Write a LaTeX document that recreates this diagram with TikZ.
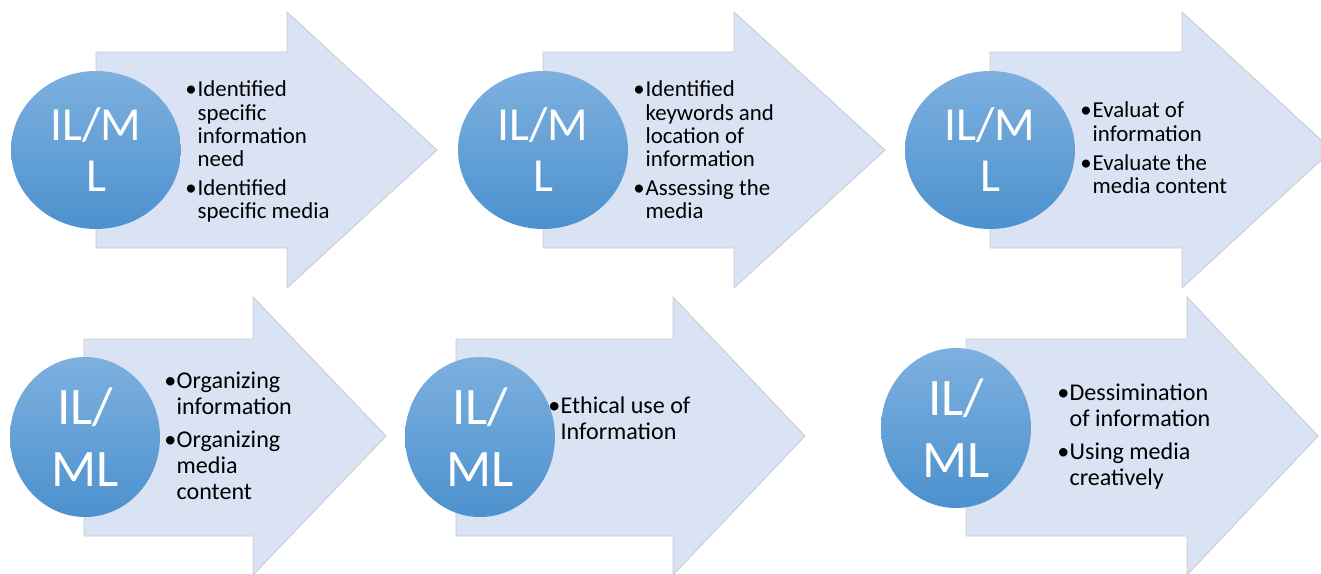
\documentclass[tikz,border=0pt]{standalone}
\usepackage{fontspec}
\setmainfont{Carlito}
\usetikzlibrary{shapes.geometric}
\definecolor{arrowfill}{HTML}{DAE3F3}
\definecolor{arrowline}{HTML}{C6CCD6}
\definecolor{balltop}{HTML}{7DB0DF}
\definecolor{ballbottom}{HTML}{4C91CE}
\tikzset{
  arrowbg/.style={fill=arrowfill, draw=arrowline, line width=0.5pt},
  ball/.style={ellipse, top color=balltop, bottom color=ballbottom,
    text=white, align=center, inner sep=0pt},
  topball/.style={ball, minimum width=3.4cm, minimum height=3.16cm,
    font=\fontsize{27}{29}\selectfont},
  lowball/.style={ball, minimum width=3.0cm, minimum height=3.2cm,
    font=\fontsize{30}{35}\selectfont},
  toplist/.style={anchor=base west, inner sep=0pt,
    font=\fontsize{13}{13.1}\selectfont},
  lowlist/.style={anchor=base west, inner sep=0pt,
    font=\fontsize{13.7}{14.8}\selectfont}
}
\newcommand{\bul}{\textbullet}
\begin{document}
\begin{tikzpicture}[x=0.02cm, y=-0.02cm]
  \clip (0,0) rectangle (1321,574);
  % top row
  \draw[arrowbg] (96,52) -- (287,52) -- (287,12) -- (437,150)
    -- (287,288) -- (287,248) -- (96,248) -- cycle;
  \draw[arrowbg] (543,52) -- (734,52) -- (734,12) -- (885,150)
    -- (734,288) -- (734,248) -- (543,248) -- cycle;
  \draw[arrowbg] (990,52) -- (1182,52) -- (1182,12) -- (1332,150)
    -- (1182,288) -- (1182,248) -- (990,248) -- cycle;
  % bottom row
  \draw[arrowbg] (84,339) -- (253,339) -- (253,297) -- (386,436)
    -- (253,575) -- (253,536) -- (84,536) -- cycle;
  \draw[arrowbg] (456,339) -- (673,339) -- (673,297) -- (805,436)
    -- (673,575) -- (673,536) -- (456,536) -- cycle;
  \draw[arrowbg] (966,339) -- (1187,339) -- (1187,297) -- (1318,436)
    -- (1187,575) -- (1187,536) -- (966,536) -- cycle;

  \node[topball] (ilml1) at (96,150) {IL/M\\L};
  \node[topball] (ilml2) at (543,150) {IL/M\\L};
  \node[topball] (ilml3) at (990,150) {IL/M\\L};
  \node[lowball] (ilml4) at (85,437) {IL/\\ML};
  \node[lowball] (ilml5) at (480,437) {IL/\\ML};
  \node[lowball] (ilml6) at (956,428) {IL/\\ML};

  \node[toplist] (list1) at (185,97) {\begin{tabular}[t]{@{}p{7pt}@{}l@{}}
    \bul & Identified\\ & specific\\ & information\\ & need\\[3.5pt]
    \bul & Identified\\ & specific media\end{tabular}};
  \node[toplist] (list2) at (633,97) {\begin{tabular}[t]{@{}p{7pt}@{}l@{}}
    \bul & Identified\\ & keywords and\\ & location of\\ & information\\[3.5pt]
    \bul & Assessing the\\ & media\end{tabular}};
  \node[toplist] (list3) at (1080,118) {\begin{tabular}[t]{@{}p{7pt}@{}l@{}}
    \bul & Evaluat of\\ & information\\[3.5pt]
    \bul & Evaluate the\\ & media content\end{tabular}};
  \node[lowlist] (list4) at (164,388) {\begin{tabular}[t]{@{}p{7pt}@{}l@{}}
    \bul & Organizing\\ & information\\[4.5pt]
    \bul & Organizing\\ & media\\ & content\end{tabular}};
  \node[lowlist] (list5) at (548,413) {\begin{tabular}[t]{@{}p{7pt}@{}l@{}}
    \bul & Ethical use of\\ & Information\end{tabular}};
  \node[lowlist] (list6) at (1057,400) {\begin{tabular}[t]{@{}p{7pt}@{}l@{}}
    \bul & Dessimination\\ & of information\\[4.5pt]
    \bul & Using media\\ & creatively\end{tabular}};
\end{tikzpicture}
\end{document}
